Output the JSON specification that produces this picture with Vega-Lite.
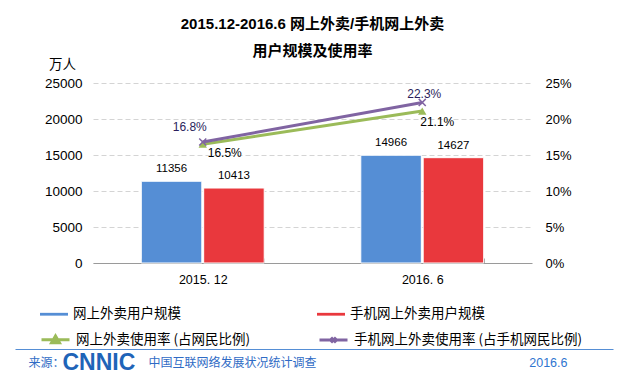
{
  "$schema": "https://vega.github.io/schema/vega-lite/v6.json",
  "width": 439,
  "height": 180,
  "autosize": {"type": "none"},
  "padding": {"left": 93, "top": 83, "right": 97, "bottom": 123},
  "background": "white",
  "config": {
    "view": {"stroke": null},
    "font": "Liberation Sans, Noto Sans CJK SC"
  },
  "title": {
    "text": ["2015.12-2016.6 网上外卖/手机网上外卖", "用户规模及使用率"],
    "font": "Liberation Sans, Noto Sans CJK SC",
    "fontSize": 15,
    "fontWeight": "bold",
    "color": "#000000",
    "anchor": "middle",
    "frame": "group",
    "lineHeight": 27,
    "offset": -2
  },
  "datasets": {
    "bars": [
      {"date": "2015.12", "series": "网上外卖用户规模", "value": 11356},
      {"date": "2015.12", "series": "手机网上外卖用户规模", "value": 10413},
      {"date": "2016.6", "series": "网上外卖用户规模", "value": 14966},
      {"date": "2016.6", "series": "手机网上外卖用户规模", "value": 14627}
    ],
    "rates": [
      {"date": "2015.12", "rseries": "网上外卖使用率 (占网民比例)", "rate": 0.165},
      {"date": "2016.6", "rseries": "网上外卖使用率 (占网民比例)", "rate": 0.211},
      {"date": "2015.12", "rseries": "手机网上外卖使用率 (占手机网民比例)", "rate": 0.168},
      {"date": "2016.6", "rseries": "手机网上外卖使用率 (占手机网民比例)", "rate": 0.223}
    ]
  },
  "resolve": {
    "scale": {"y": "independent"},
    "axis": {"x": "independent", "y": "independent"}
  },
  "layer": [
    {
      "data": {"name": "bars"},
      "mark": {"type": "bar", "stroke": "white", "strokeWidth": 1},
      "encoding": {
        "x": {
          "field": "date", "type": "nominal", "sort": ["2015.12", "2016.6"],
          "scale": {"paddingInner": 0.44, "paddingOuter": 0.22},
          "axis": {
            "orient": "bottom", "title": null, "grid": false,
            "domain": true, "domainColor": "#9A9A9A", "domainWidth": 1,
            "ticks": true, "tickBand": "extent", "tickSize": -5, "tickColor": "#9A9A9A",
            "labelExpr": "replace(datum.label, '.', '. ')",
            "labelAngle": 0, "labelPadding": 15, "labelFontSize": 12.5,
            "labelFont": "Liberation Sans", "labelColor": "#000000"
          }
        },
        "xOffset": {
          "field": "series", "type": "nominal",
          "sort": ["网上外卖用户规模", "手机网上外卖用户规模"],
          "scale": {"paddingInner": 0.03, "paddingOuter": 0}
        },
        "y": {
          "field": "value", "type": "quantitative",
          "scale": {"domain": [0, 25000], "nice": false},
          "axis": {
            "orient": "left", "values": [0, 5000, 10000, 15000, 20000, 25000], "format": "d",
            "domain": false, "ticks": false,
            "grid": true, "gridColor": "#D4D4D4", "gridDash": [5, 3], "gridWidth": 1,
            "labelFontSize": 13.5, "labelFont": "Liberation Sans", "labelColor": "#000000", "labelPadding": 11,
            "title": "万人", "titleAngle": 0, "titleX": -31, "titleY": -19,
            "titleAlign": "center", "titleBaseline": "middle",
            "titleFontSize": 13.5, "titleFontWeight": "normal", "titleFont": "Noto Sans CJK SC", "titleColor": "#000000"
          }
        },
        "fill": {
          "field": "series", "type": "nominal",
          "scale": {"domain": ["网上外卖用户规模", "手机网上外卖用户规模"], "range": ["#558ED5", "#E9383D"]},
          "legend": {
            "title": null, "orient": "none", "legendX": -53, "legendY": 217,
            "columns": 2, "columnPadding": 136, "padding": 0,
            "symbolType": "M-1,-0.1H1V0.1H-1Z", "symbolSize": 784, "symbolStrokeWidth": 0,
            "labelFontSize": 13.5, "labelFont": "Noto Sans CJK SC", "labelColor": "#000000",
            "labelOffset": 5, "labelLimit": 400
          }
        }
      }
    },
    {
      "data": {"name": "bars"},
      "mark": {"type": "text", "dy": -12, "baseline": "middle", "fontSize": 11.5, "font": "Liberation Sans", "color": "#000000"},
      "encoding": {
        "x": {"field": "date", "type": "nominal", "sort": ["2015.12", "2016.6"], "axis": null},
        "xOffset": {"field": "series", "type": "nominal", "sort": ["网上外卖用户规模", "手机网上外卖用户规模"]},
        "y": {"field": "value", "type": "quantitative", "scale": {"domain": [0, 25000], "nice": false}, "axis": null},
        "text": {"field": "value", "type": "quantitative", "format": "d"}
      }
    },
    {
      "data": {"name": "rates"},
      "mark": {"type": "line", "strokeWidth": 3},
      "encoding": {
        "x": {"field": "date", "type": "nominal", "sort": ["2015.12", "2016.6"], "axis": null},
        "y": {
          "field": "rate", "type": "quantitative",
          "scale": {"domain": [0, 0.25], "nice": false},
          "axis": {
            "orient": "right", "values": [0, 0.05, 0.1, 0.15, 0.2, 0.25], "format": ".0%",
            "domain": false, "ticks": false, "grid": false, "title": null,
            "labelFontSize": 13, "labelFont": "Liberation Sans", "labelColor": "#000000", "labelPadding": 13
          }
        },
        "stroke": {
          "field": "rseries", "type": "nominal",
          "scale": {"domain": ["网上外卖使用率 (占网民比例)", "手机网上外卖使用率 (占手机网民比例)"], "range": ["#9BBB59", "#8064A2"]},
          "legend": {
            "title": null, "orient": "none", "legendX": -53, "legendY": 241,
            "columns": 2, "columnPadding": 62, "padding": 0,
            "symbolSize": 784, "symbolStrokeWidth": 3, "symbolOpacity": 1,
            "labelFontSize": 13.5, "labelFont": "Noto Sans CJK SC", "labelColor": "#000000",
            "labelOffset": 5, "labelLimit": 400
          }
        }
      }
    },
    {
      "data": {"name": "rates"},
      "transform": [{"filter": "datum.rseries === '网上外卖使用率 (占网民比例)'"}],
      "mark": {"type": "point", "shape": "triangle-up", "filled": true, "size": 70, "color": "#9BBB59", "opacity": 1},
      "encoding": {
        "x": {"field": "date", "type": "nominal", "sort": ["2015.12", "2016.6"], "axis": null},
        "y": {"field": "rate", "type": "quantitative", "scale": {"domain": [0, 0.25], "nice": false}, "axis": null}
      }
    },
    {
      "data": {"name": "rates"},
      "transform": [{"filter": "datum.rseries === '手机网上外卖使用率 (占手机网民比例)'"}],
      "mark": {"type": "point", "shape": "M-1,-1L1,1M-1,1L1,-1", "filled": false, "size": 50, "strokeWidth": 1.5, "color": "#8064A2", "opacity": 1},
      "encoding": {
        "x": {"field": "date", "type": "nominal", "sort": ["2015.12", "2016.6"], "axis": null},
        "y": {"field": "rate", "type": "quantitative", "scale": {"domain": [0, 0.25], "nice": false}, "axis": null}
      }
    },
    {
      "data": {"name": "rates"},
      "transform": [{"filter": "datum.rseries === '手机网上外卖使用率 (占手机网民比例)' && datum.date === '2015.12'"}],
      "mark": {"type": "text", "dx": -13, "dy": -15, "baseline": "middle", "fontSize": 12, "font": "Liberation Sans", "color": "#2B1E5C"},
      "encoding": {
        "x": {
          "field": "date", "type": "nominal", "sort": ["2015.12", "2016.6"],
          "axis": {
            "orient": "bottom", "labels": false, "ticks": false, "domain": false, "grid": false,
            "title": "来源：", "titleX": -65, "titleY": 99, "titleAlign": "left", "titleBaseline": "middle", "titleAngle": 0,
            "titleFontSize": 12, "titleFontWeight": "normal", "titleColor": "#2F6BC5", "titleFont": "Noto Sans CJK SC"
          }
        },
        "y": {"field": "rate", "type": "quantitative", "scale": {"domain": [0, 0.25], "nice": false}, "axis": null},
        "text": {"field": "rate", "type": "quantitative", "format": ".1%"}
      }
    },
    {
      "data": {"name": "rates"},
      "transform": [{"filter": "datum.rseries === '手机网上外卖使用率 (占手机网民比例)' && datum.date === '2016.6'"}],
      "mark": {"type": "text", "dx": 2, "dy": -8, "baseline": "middle", "fontSize": 12, "font": "Liberation Sans", "color": "#2B1E5C"},
      "encoding": {
        "x": {
          "field": "date", "type": "nominal", "sort": ["2015.12", "2016.6"],
          "axis": {
            "orient": "bottom", "labels": false, "ticks": false, "domain": false, "grid": false,
            "title": "CNNIC", "titleX": -31, "titleY": 99, "titleAlign": "left", "titleBaseline": "middle", "titleAngle": 0,
            "titleFontSize": 23, "titleFontWeight": "bold", "titleColor": "#1F64B8", "titleFont": "Liberation Sans"
          }
        },
        "y": {"field": "rate", "type": "quantitative", "scale": {"domain": [0, 0.25], "nice": false}, "axis": null},
        "text": {"field": "rate", "type": "quantitative", "format": ".1%"}
      }
    },
    {
      "data": {"name": "rates"},
      "transform": [{"filter": "datum.rseries === '网上外卖使用率 (占网民比例)' && datum.date === '2015.12'"}],
      "mark": {"type": "text", "dx": 22, "dy": 9, "baseline": "middle", "fontSize": 12, "font": "Liberation Sans", "color": "#000000"},
      "encoding": {
        "x": {
          "field": "date", "type": "nominal", "sort": ["2015.12", "2016.6"],
          "axis": {
            "orient": "bottom", "labels": false, "ticks": false, "domain": false, "grid": false,
            "title": "中国互联网络发展状况统计调查", "titleX": 55, "titleY": 99, "titleAlign": "left", "titleBaseline": "middle", "titleAngle": 0,
            "titleFontSize": 12, "titleFontWeight": "normal", "titleColor": "#2F6BC5", "titleFont": "Noto Sans CJK SC"
          }
        },
        "y": {"field": "rate", "type": "quantitative", "scale": {"domain": [0, 0.25], "nice": false}, "axis": null},
        "text": {"field": "rate", "type": "quantitative", "format": ".1%"}
      }
    },
    {
      "data": {"name": "rates"},
      "transform": [{"filter": "datum.rseries === '网上外卖使用率 (占网民比例)' && datum.date === '2016.6'"}],
      "mark": {"type": "text", "dx": 15, "dy": 11, "baseline": "middle", "fontSize": 12, "font": "Liberation Sans", "color": "#000000"},
      "encoding": {
        "x": {
          "field": "date", "type": "nominal", "sort": ["2015.12", "2016.6"],
          "axis": {
            "orient": "bottom", "labels": false, "ticks": false, "domain": false, "grid": false,
            "title": "2016.6", "titleX": 474, "titleY": 99, "titleAlign": "right", "titleBaseline": "middle", "titleAngle": 0,
            "titleFontSize": 12.5, "titleFontWeight": "normal", "titleColor": "#2F75D0", "titleFont": "Liberation Sans"
          }
        },
        "y": {"field": "rate", "type": "quantitative", "scale": {"domain": [0, 0.25], "nice": false}, "axis": null},
        "text": {"field": "rate", "type": "quantitative", "format": ".1%"}
      }
    },
    {
      "data": {"name": "rates"},
      "transform": [{"filter": "datum.rate < 0"}],
      "mark": {"type": "point", "filled": false},
      "encoding": {
        "x": {"field": "date", "type": "nominal", "sort": ["2015.12", "2016.6"], "axis": null},
        "y": {
          "field": "rate", "type": "quantitative",
          "scale": {"domain": [0, 1], "range": [266, 0], "nice": false},
          "axis": {
            "orient": "left", "offset": -520, "values": [0],
            "labels": false, "domain": false, "grid": false, "title": null,
            "ticks": true, "tickSize": 598, "tickColor": "#558ED5", "tickWidth": 1
          }
        },
        "shape": {
          "field": "rseries", "type": "nominal",
          "scale": {
            "domain": ["网上外卖使用率 (占网民比例)", "手机网上外卖使用率 (占手机网民比例)"],
            "range": ["M-1,0H1M-0.28,0.2L0,-0.28L0.28,0.2Z", "M-1,0H1M-0.18,-0.18L0.18,0.18M-0.18,0.18L0.18,-0.18"]
          },
          "legend": {
            "title": null, "orient": "none", "legendX": -53, "legendY": 241,
            "columns": 2, "columnPadding": 62, "padding": 0,
            "symbolSize": 784, "symbolStrokeWidth": 3, "symbolOpacity": 1,
            "labelFontSize": 13.5, "labelFont": "Noto Sans CJK SC", "labelColor": "#000000",
            "labelOffset": 5, "labelLimit": 400
          }
        },
        "stroke": {
          "field": "rseries", "type": "nominal",
          "legend": {
            "title": null, "orient": "none", "legendX": -53, "legendY": 241,
            "columns": 2, "columnPadding": 62, "padding": 0,
            "symbolSize": 784, "symbolStrokeWidth": 3, "symbolOpacity": 1,
            "labelFontSize": 13.5, "labelFont": "Noto Sans CJK SC", "labelColor": "#000000",
            "labelOffset": 5, "labelLimit": 400
          }
        }
      }
    }
  ]
}
